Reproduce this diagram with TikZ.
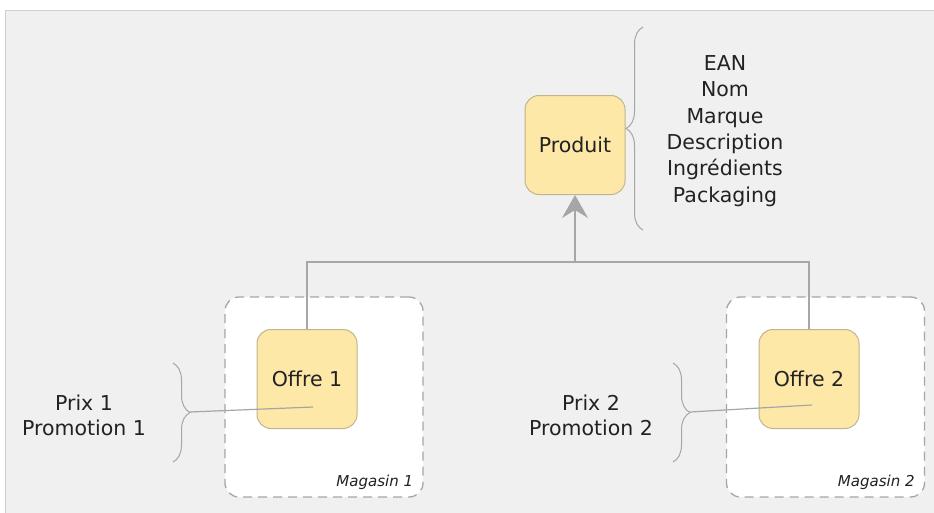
\documentclass[tikz,border=0pt]{standalone}
\usepackage{fontspec}
\setmainfont{DejaVu Sans}
\usetikzlibrary{arrows.meta, positioning, decorations.pathreplacing}

\definecolor{panelgray}{HTML}{F0F0F0}
\definecolor{panelline}{HTML}{CFCFCF}
\definecolor{linkgray}{HTML}{A6A6A6}
\definecolor{offrefill}{HTML}{FDE8A8}
\definecolor{offreline}{HTML}{C2B48C}
\definecolor{textgray}{HTML}{222222}

\tikzset{
    entity/.style={draw=offreline, fill=offrefill, rounded corners=14pt, line width=1pt,
        minimum width=100pt, minimum height=99pt, text=textgray, font=\fontsize{20.5}{24}\selectfont},
    store/.style={draw=linkgray, dash pattern=on 9pt off 6pt, fill=white, rounded corners=14pt,
        line width=1.3pt, minimum width=198pt, minimum height=200pt},
    storelabel/.style={anchor=base east, text=textgray, font=\itshape\fontsize{15}{17}\selectfont},
    attrs/.style={align=center, text=textgray, font=\fontsize{20.5}{26.4}\selectfont},
    link/.style={draw=linkgray, line width=1.5pt},
    curly/.style={draw=linkgray, line width=1pt, decorate, decoration={brace, amplitude=17pt}},
}

\begin{document}
\begin{tikzpicture}[x=1pt, y=-1pt]
    \useasboundingbox (0,0) rectangle (934,512);
    \draw[draw=panelline, fill=panelgray] (5,10) rectangle (945,525);

    \node[store] (mag1) at (324,397) {};
    \node[store] (mag2) at (825.5,397) {};
    \node[storelabel] (mag1lbl) at ([xshift=-7pt, yshift=11pt]mag1.south east) {Magasin 1};
    \node[storelabel] (mag2lbl) at ([xshift=-7pt, yshift=11pt]mag2.south east) {Magasin 2};

    \node[entity] (produit) at (575,145) {Produit};
    \node[entity] (offre1) at (307,379) {Offre 1};
    \node[entity] (offre2) at (809,379) {Offre 2};

    \node[attrs] (prodattrs) at (725,131) {EAN\\Nom\\Marque\\Description\\Ingrédients\\Packaging};
    \node[attrs, font=\fontsize{20.5}{25}\selectfont] (prix1) at (84,415) {Prix 1\\Promotion 1};
    \node[attrs, font=\fontsize{20.5}{25}\selectfont] (prix2) at (591,415) {Prix 2\\Promotion 2};

    \draw[curly] (643,230) -- (643,27);
    \draw[curly] (173,363) -- (173,462);
    \draw[curly] (673,363) -- (673,462);

    \coordinate (tip1) at (190,412);
    \coordinate (tip2) at (690,412);
    \coordinate (end1) at ([xshift=6pt, yshift=-28pt]offre1.center);
    \coordinate (end2) at ([xshift=3pt, yshift=-26pt]offre2.center);
    \coordinate (bus) at (575,262);

    \draw[link, line width=1.2pt] (tip1) -- (end1);
    \draw[link, line width=1.2pt] (tip2) -- (end2);
    \draw[link] (offre1.north) |- (bus) -| (offre2.north);
    \draw[link, -{Stealth[length=23pt, width=26pt, inset=8pt]}] (bus) -- (produit.south);
\end{tikzpicture}
\end{document}
